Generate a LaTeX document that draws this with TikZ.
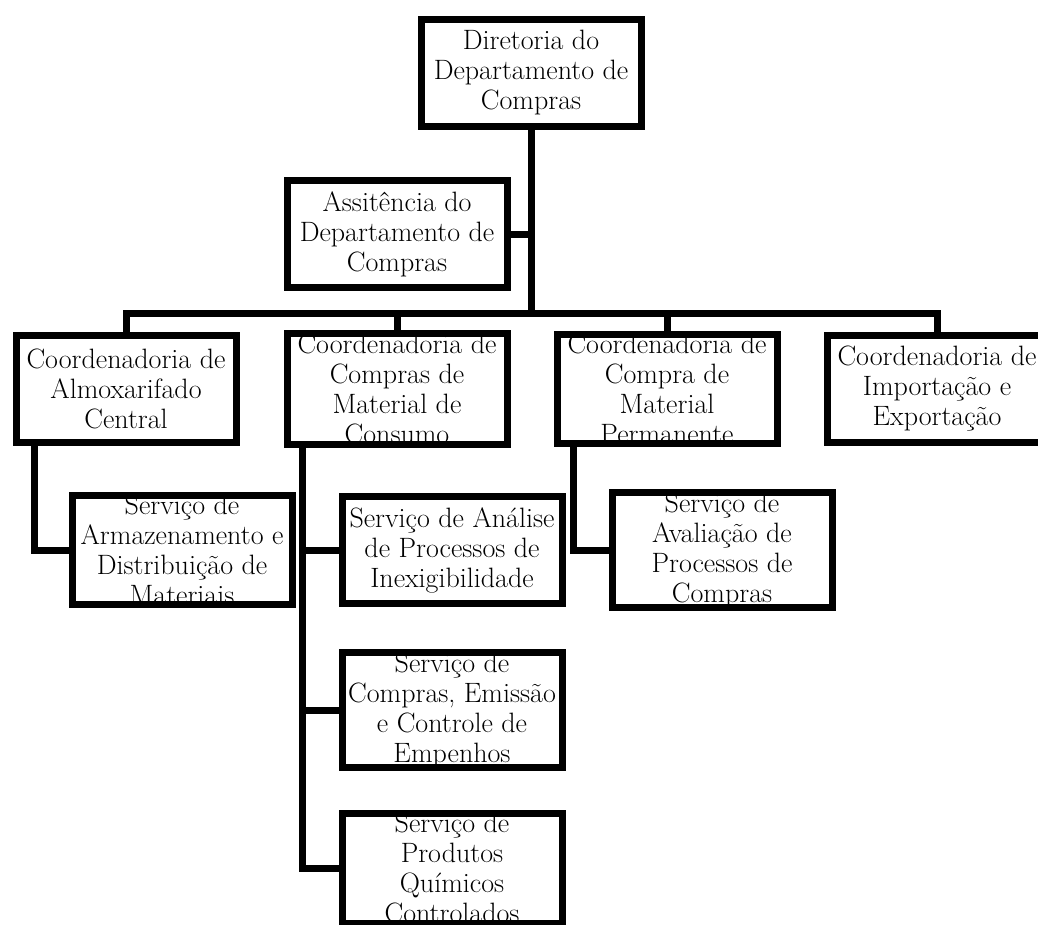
\documentclass[tikz,border=0pt]{standalone}
\usepackage{fontspec}

\begin{document}
\begin{tikzpicture}[x=1pt,y=-1pt,
  unit/.style={draw,line width=7pt,minimum width=220pt,minimum height=107pt,
    inner sep=0pt,align=center,font=\fontsize{28}{30}\selectfont},
  link/.style={line width=7pt,line cap=rect}]
  \useasboundingbox (0,0) rectangle (1038,924);

  % direction
  \node[unit] (dir) at (531,73) {Diretoria do\\Departamento de\\Compras};
  \node[unit] (assist) at (397,234) {Assitência do\\Departamento de\\Compras};

  % coordenadorias
  \node[unit] (alm) at (126,389) {Coordenadoria de\\Almoxarifado\\Central};
  \node[unit] (cons) at (397,389) {Coordenadoria de\\Compras de\\Material de\\Consumo};
  \node[unit] (perm) at (667,389) {Coordenadoria de\\Compra de\\Material\\Permanente};
  \node[unit] (imp) at (937,389) {Coordenadoria de\\Importação e\\Exportação};

  % servicos
  \node[unit] (arm) at (182,550) {Serviço de\\Armazenamento e\\Distribuição de\\Materiais};
  \node[unit] (ana) at (452,550) {Serviço de Análise\\de Processos de\\Inexigibilidade};
  \node[unit] (emi) at (452,710) {Serviço de\\Compras, Emissão\\e Controle de\\Empenhos};
  \node[unit] (qui) at (452,868) {Serviço de\\Produtos\\Químicos\\Controlados};
  \node[unit] (ava) at (722,550) {Serviço de\\Avaliação de\\Processos de\\Compras};

  % lines
  \coordinate (bus) at (531,313);
  \draw[link] (dir) -- (bus);
  \draw[link] (assist.east) -- (assist.east -| bus);
  \draw[link] (alm.north |- bus) -- (imp.north |- bus);
  \foreach \n in {alm,cons,perm,imp}
    \draw[link] (\n.north) -- (\n.north |- bus);

  \coordinate (almdown) at ([xshift=22]alm.south west);
  \coordinate (consdown) at ([xshift=19]cons.south west);
  \coordinate (permdown) at ([xshift=20]perm.south west);
  \draw[link] (almdown) |- (arm.west);
  \draw[link] (permdown) |- (ava.west);
  \draw[link] (consdown) |- (qui.west);
  \draw[link] (consdown |- ana.west) -- (ana.west);
  \draw[link] (consdown |- emi.west) -- (emi.west);
\end{tikzpicture}
\end{document}
